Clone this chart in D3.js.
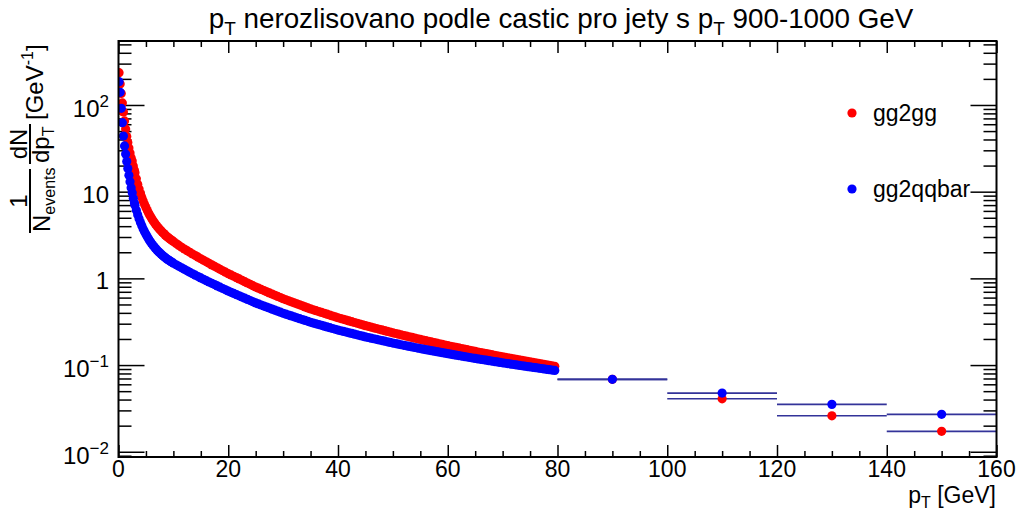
<!DOCTYPE html>
<html><head><meta charset="utf-8">
<script src="https://cdnjs.cloudflare.com/ajax/libs/d3/7.8.5/d3.min.js"></script>
<style>
body{margin:0;background:#fff}
svg{display:block}
text{font-family:"Liberation Sans",Arial,Helvetica,sans-serif;fill:#000}
</style></head>
<body><svg id="c" width="1021" height="511"></svg>
<script>
// ---- data ----
const binCenters = [
 0.1,0.3,0.5,0.7,0.9,1.1,1.3,1.5,1.7,1.9,2.1,2.3,2.5,2.7,2.9,
 3,3.25,3.5,3.75,4,4.25,4.5,4.75,5,5.25,5.5,5.75,6,6.25,6.5,6.75,7,7.25,7.5,7.75,8,8.25,8.5,8.75,9,9.25,9.5,9.75,10,
 10.5,11,11.5,12,12.5,13,13.5,14,14.5,15,
 15.5,16,16.5,17,17.5,18,18.5,19,19.5,20,
 20.5,21,21.5,22,22.5,23,23.5,24,24.5,25,
 25.5,26,26.5,27,27.5,28,28.5,29,29.5,30,
 30.5,31,31.5,32,32.5,33,33.5,34,34.5,35,
 35.5,36,36.5,37,37.5,38,38.5,39,39.5,40,
 40.5,41,41.5,42,42.5,43,43.5,44,44.5,45,
 45.5,46,46.5,47,47.5,48,48.5,49,49.5,50,
 50.5,51,51.5,52,52.5,53,53.5,54,54.5,55,
 55.5,56,56.5,57,57.5,58,58.5,59,59.5,60,
 60.5,61,61.5,62,62.5,63,63.5,64,64.5,65,
 65.5,66,66.5,67,67.5,68,68.5,69,69.5,70,
 70.5,71,71.5,72,72.5,73,73.5,74,74.5,75,
 75.5,76,76.5,77,77.5,78,78.5,79,79.5];
const gg2gg = [
 235.8,174.7,135.7,105.5,83.0,65.4,52.9,43.3,36.9,31.9,27.95,24.7,22.6,19.8,17.7,
 16.53,14.09,12.19,10.72,9.53,8.57,7.78,7.12,6.55,6.06,5.65,5.28,4.96,4.679,4.430,4.206,4.011,3.836,3.676,3.533,3.402,3.282,3.172,3.070,2.975,2.887,2.804,2.727,2.654,
 2.519,2.396,2.284,2.181,2.084,1.995,1.910,1.830,1.754,1.683,
 1.615,1.551,1.490,1.431,1.376,1.322,1.272,1.224,1.178,1.134,
 1.096,1.058,1.020,0.9845,0.9499,0.9164,0.8842,0.8531,0.8231,0.7941,
 0.7698,0.7463,0.7234,0.7013,0.6798,0.6590,0.6389,0.6193,0.6004,0.5820,
 0.5664,0.5514,0.5367,0.5224,0.5085,0.4950,0.4818,0.4690,0.4565,0.4444,
 0.4341,0.4240,0.4142,0.4046,0.3952,0.3860,0.3771,0.3683,0.3598,0.3514,
 0.3441,0.3370,0.3300,0.3232,0.3165,0.3099,0.3035,0.2972,0.2910,0.2850,
 0.2796,0.2743,0.2691,0.2640,0.2590,0.2541,0.2493,0.2446,0.2399,0.2354,
 0.2313,0.2273,0.2233,0.2194,0.2156,0.2118,0.2081,0.2045,0.2009,0.1974,
 0.1942,0.1910,0.1879,0.1849,0.1819,0.1789,0.1760,0.1731,0.1703,0.1675,
 0.1649,0.1624,0.1599,0.1575,0.1551,0.1527,0.1504,0.1481,0.1458,0.1436,
 0.1415,0.1395,0.1375,0.1355,0.1336,0.1317,0.1298,0.1279,0.1261,0.1243,
 0.1226,0.1210,0.1193,0.1177,0.1162,0.1146,0.1131,0.1115,0.1101,0.1086,
 0.1072,0.1059,0.1046,0.1033,0.1020,0.1007,0.0994,0.0982,0.0969];
const gg2qqbar = [
 185.7,140.1,91.6,62.5,43.9,33.7,27.2,22.3,18.5,15.5,13.0,11.09,9.69,8.41,7.41,
 6.99,6.10,5.42,4.87,4.41,4.043,3.72,3.459,3.225,3.019,2.840,2.682,2.545,2.423,2.313,2.214,2.126,2.046,1.972,1.906,1.845,1.789,1.737,1.689,1.645,1.605,1.567,1.531,1.498,
 1.436,1.378,1.323,1.271,1.221,1.175,1.131,1.089,1.050,1.011,
 0.9738,0.9406,0.9086,0.8776,0.8477,0.8188,0.7909,0.7640,0.7380,0.7128,
 0.6908,0.6695,0.6488,0.6288,0.6094,0.5906,0.5724,0.5547,0.5376,0.5210,
 0.5068,0.4931,0.4797,0.4667,0.4541,0.4418,0.4298,0.4182,0.4069,0.3959,
 0.3867,0.3775,0.3686,0.3599,0.3514,0.3431,0.3350,0.3271,0.3194,0.3119,
 0.3054,0.2991,0.2930,0.2870,0.2811,0.2753,0.2697,0.2642,0.2588,0.2535,
 0.2489,0.2444,0.2400,0.2357,0.2314,0.2272,0.2231,0.2191,0.2151,0.2112,
 0.2078,0.2044,0.2011,0.1979,0.1947,0.1915,0.1884,0.1854,0.1824,0.1794,
 0.1768,0.1742,0.1716,0.1691,0.1666,0.1642,0.1618,0.1594,0.1571,0.1548,
 0.1526,0.1506,0.1486,0.1466,0.1446,0.1427,0.1408,0.1389,0.1370,0.1352,
 0.1334,0.1318,0.1301,0.1285,0.1269,0.1253,0.1238,0.1222,0.1207,0.1192,
 0.1178,0.1165,0.1151,0.1138,0.1124,0.1111,0.1098,0.1086,0.1073,0.1061,
 0.1049,0.1038,0.1026,0.1015,0.1004,0.0993,0.0982,0.0972,0.0961,0.0951,
 0.0941,0.0932,0.0922,0.0913,0.0903,0.0894,0.0885,0.0876,0.0867];
const wideLow = [80,100,120,140];
const wideHigh = [100,120,140,160];
const wide_gg2gg = [0.0684,0.0408,0.0260,0.0172];
const wide_gg2qqbar = [0.0684,0.0475,0.0352,0.0270];
const seriesNames = ["gg2gg","gg2qqbar"];
const seriesColors = ["#ff0000","#0000ff"];
const xMajorTicks = [0,20,40,60,80,100,120,140,160];
const yDecades = [0.01,0.1,1,10,100];
const yLabelBase = ["10","10","1","10","10"];
const yLabelExp = ["\u22122","\u22121","","","2"];

// ---- layout ----
const svg = d3.select("#c");
const L = 118.5, R = 996.5, T = 41, B = 457;
const x = d3.scaleLinear().domain([0,160]).range([L,R]);
const y = d3.scaleLog().domain([0.0087,547]).range([B,T]);

const xMinor = d3.range(0,161,5).filter(v => v % 20 !== 0);
const yMinor = [];
[0.001,0.01,0.1,1,10,100].forEach(d => { for (let k=2;k<=9;k++){ const v=d*k; if (v>=0.0087 && v<=547) yMinor.push(v);} });

function axisG(tr, axis){
  const g = svg.append("g").attr("transform", tr).call(axis);
  g.select(".domain").remove();
  g.selectAll("line").attr("stroke","#000").attr("stroke-width",1.5);
  return g;
}
axisG(`translate(0,${B})`, d3.axisTop(x).tickValues(xMajorTicks).tickSize(12).tickFormat(""));
axisG(`translate(0,${B})`, d3.axisTop(x).tickValues(xMinor).tickSize(6).tickFormat(""));
axisG(`translate(0,${T})`, d3.axisBottom(x).tickValues(xMajorTicks).tickSize(12).tickFormat(""));
axisG(`translate(0,${T})`, d3.axisBottom(x).tickValues(xMinor).tickSize(6).tickFormat(""));
axisG(`translate(${L},0)`, d3.axisRight(y).tickValues(yDecades).tickSize(26).tickFormat(""));
axisG(`translate(${L},0)`, d3.axisRight(y).tickValues(yMinor).tickSize(13).tickFormat(""));
axisG(`translate(${R},0)`, d3.axisLeft(y).tickValues(yDecades).tickSize(26).tickFormat(""));
axisG(`translate(${R},0)`, d3.axisLeft(y).tickValues(yMinor).tickSize(13).tickFormat(""));

// x labels
svg.append("g").selectAll("text").data(xMajorTicks).join("text")
  .attr("x", d => x(d)).attr("y", 477).attr("text-anchor","middle")
  .attr("font-size", 23).text(d => d);

// y labels
yDecades.forEach((v,i) => {
  const t = svg.append("text").attr("x", 109).attr("text-anchor","end").attr("font-size",24)
    .attr("y", y(v) + (yLabelExp[i] ? 12 : 11));
  t.append("tspan").text(yLabelBase[i]);
  if (yLabelExp[i]) t.append("tspan").attr("dy",-10).attr("font-size",17).text(yLabelExp[i]);
});

// data
svg.append("clipPath").attr("id","clp").append("rect")
  .attr("x",L).attr("y",T).attr("width",R-L).attr("height",B-T);
const plot = svg.append("g").attr("clip-path","url(#clp)");
const allSeries = [
  {name:seriesNames[0], color:seriesColors[0], vals:gg2gg, wide:wide_gg2gg},
  {name:seriesNames[1], color:seriesColors[1], vals:gg2qqbar, wide:wide_gg2qqbar}
];
allSeries.forEach(s => {
  const wideData = wideLow.map((lo,i) => ({lo, hi:wideHigh[i], v:s.wide[i]}));
  plot.append("g").selectAll("line").data(wideData).join("line")
    .attr("x1", d => x(d.lo)).attr("x2", d => x(d.hi))
    .attr("y1", d => y(d.v)).attr("y2", d => y(d.v))
    .attr("stroke","#333399").attr("stroke-width",1.6);
  const n = Math.min(binCenters.length, s.vals.length);
  const pts = binCenters.slice(0,n).map((c,i) => ({c, v:s.vals[i]}))
    .concat(wideData.map(d => ({c:(d.lo+d.hi)/2, v:d.v})));
  plot.append("g").selectAll("circle").data(pts).join("circle")
    .attr("cx", d => x(d.c)).attr("cy", d => y(d.v)).attr("r", 4.6)
    .attr("fill", s.color);
});

// frame
svg.append("rect").attr("x",L).attr("y",T).attr("width",R-L).attr("height",B-T)
  .attr("fill","none").attr("stroke","#000").attr("stroke-width",2);

// legend
const legY = [113, 189];
allSeries.forEach((s,i) => {
  svg.append("circle").attr("cx",852).attr("cy",legY[i]).attr("r",4.6).attr("fill",s.color);
  svg.append("text").attr("x",873).attr("y",legY[i]+8).attr("font-size",23).text(s.name);
});

// title
const title = svg.append("text").attr("x",561).attr("y",28).attr("text-anchor","middle").attr("font-size",27.8);
title.append("tspan").text("p");
title.append("tspan").attr("dy",7).attr("font-size",19).text("T");
title.append("tspan").attr("dy",-7).text(" nerozlisovano podle castic pro jety s p");
title.append("tspan").attr("dy",7).attr("font-size",19).text("T");
title.append("tspan").attr("dy",-7).text(" 900-1000 GeV");

// x title
const xt = svg.append("text").attr("x",996).attr("y",503).attr("text-anchor","end").attr("font-size",23);
xt.append("tspan").text("p");
xt.append("tspan").attr("dy",5).attr("font-size",16).text("T");
xt.append("tspan").attr("dy",-5).text(" [GeV]");

// y title (rotated)
const yt = svg.append("g").attr("transform","translate(44,235) rotate(-90)");
yt.append("text").attr("x",34).attr("y",-17).attr("text-anchor","middle").attr("font-size",24).text("1");
yt.append("line").attr("x1",2).attr("x2",66).attr("y1",-14).attr("y2",-14).attr("stroke","#000").attr("stroke-width",2);
const den1 = yt.append("text").attr("x",3).attr("y",6).attr("font-size",24);
den1.append("tspan").text("N");
den1.append("tspan").attr("dy",5).attr("font-size",16).text("events");
yt.append("text").attr("x",91).attr("y",-17).attr("text-anchor","middle").attr("font-size",24).text("dN");
yt.append("line").attr("x1",71).attr("x2",111).attr("y1",-14).attr("y2",-14).attr("stroke","#000").attr("stroke-width",2);
const den2 = yt.append("text").attr("x",72).attr("y",5).attr("font-size",24);
den2.append("tspan").text("dp");
den2.append("tspan").attr("dy",5).attr("font-size",16).text("T");
const unit = yt.append("text").attr("x",115).attr("y",-1).attr("font-size",24);
unit.append("tspan").text("[GeV");
unit.append("tspan").attr("dy",-10).attr("font-size",16).text("-1");
unit.append("tspan").attr("dy",10).text("]");
</script>
</body></html>
